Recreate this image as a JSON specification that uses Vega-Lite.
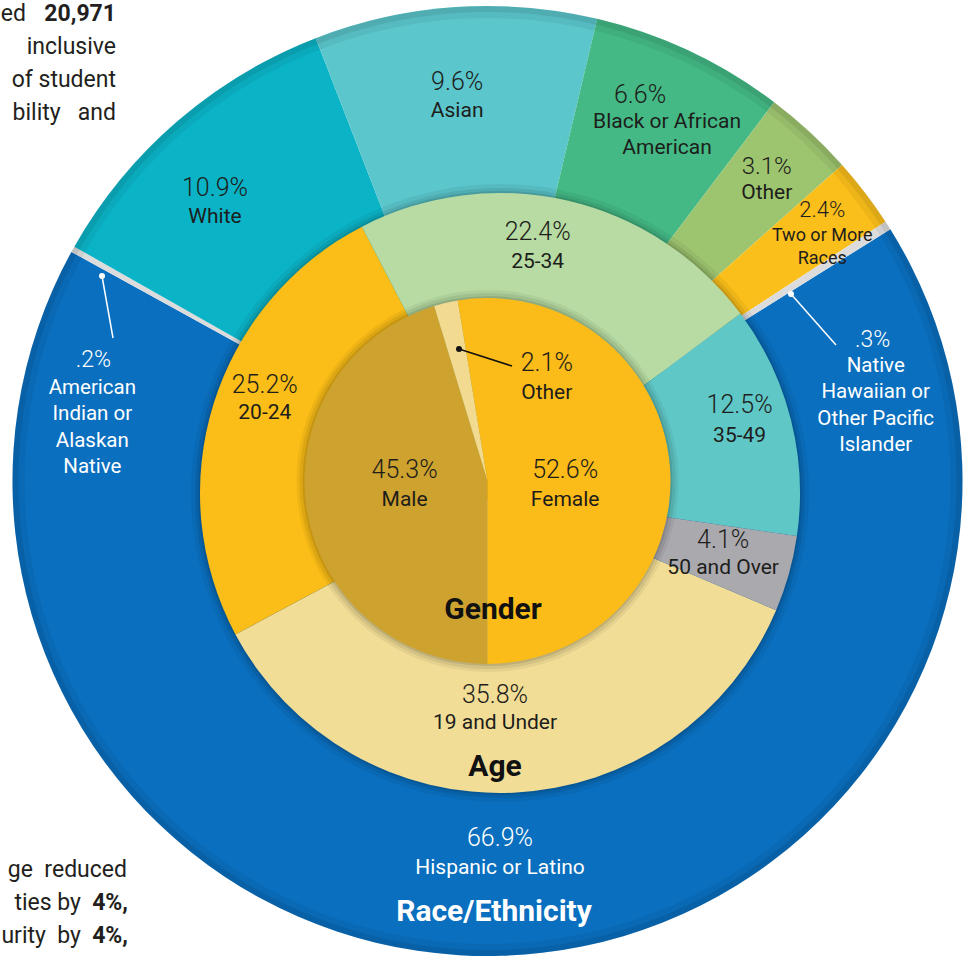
{
"$schema":"https://vega.github.io/schema/vega-lite/v6.json",
"width":975,"height":962,
"autosize":{"type":"none"},
"padding":0,
"background":"#ffffff",
"config":{"view":{"stroke":null}},
"datasets":{
 "race":[
  {"i":1,"label":"Hispanic or Latino","name":"Hispanic or Latino","pct":"66.9%","value":66.9},
  {"i":2,"label":"American Indian or Alaskan Native","name":"American\nIndian or\nAlaskan\nNative","pct":".2%","value":0.2},
  {"i":3,"label":"White","name":"White","pct":"10.9%","value":10.9},
  {"i":4,"label":"Asian","name":"Asian","pct":"9.6%","value":9.6},
  {"i":5,"label":"Black or African American","name":"Black or African\nAmerican","pct":"6.6%","value":6.6},
  {"i":6,"label":"Other","name":"Other","pct":"3.1%","value":3.1},
  {"i":7,"label":"Two or More Races","name":"Two or More\nRaces","pct":"2.4%","value":2.4},
  {"i":8,"label":"Native Hawaiian or Other Pacific Islander","name":"Native\nHawaiian or\nOther Pacific\nIslander","pct":".3%","value":0.3}
 ],
 "age":[
  {"i":1,"label":"19 and Under","pct":"35.8%","value":35.8},
  {"i":2,"label":"20-24","pct":"25.2%","value":25.2},
  {"i":3,"label":"25-34","pct":"22.4%","value":22.4},
  {"i":4,"label":"35-49","pct":"12.5%","value":12.5},
  {"i":5,"label":"50 and Over","pct":"4.1%","value":4.1}
 ],
 "gender":[
  {"i":1,"label":"Male","pct":"45.3%","value":45.3},
  {"i":2,"label":"Other","pct":"2.1%","value":2.1},
  {"i":3,"label":"Female","pct":"52.6%","value":52.6}
 ],
 "one":[{"k":1}]
},
"resolve":{"scale":{"theta":"independent","color":"independent"}},
"layer":[
 {"data":{"name":"race"},
  "mark":{"type":"arc","radius":475,"radius2":0},
  "encoding":{
   "theta":{"field":"value","type":"quantitative","stack":true,"scale":{"domain":[0,100],"range":[1.012291,7.295476]}},
   "order":{"field":"i","type":"quantitative"},
   "color":{"field":"label","type":"nominal","legend":null,"scale":{
     "domain":["Hispanic or Latino","American Indian or Alaskan Native","White","Asian","Black or African American","Other","Two or More Races","Native Hawaiian or Other Pacific Islander"],
     "range":["#0a6fbe","#dcdcdc","#0bb3c6","#5bc6cb","#44b985","#9dc56f","#fbbf1b","#dcdcdc"]}}
  }},
 {"data":{"name":"one"},"mark":{"type":"arc","theta":0,"theta2":6.2832,"radius":475,"radius2":463,"color":"#000000","opacity":0.05},"encoding":{}},
 {"data":{"name":"one"},"mark":{"type":"arc","theta":0,"theta2":6.2832,"radius":475,"radius2":469,"color":"#000000","opacity":0.07},"encoding":{}},
 {"data":{"name":"one"},"mark":{"type":"arc","theta":0,"theta2":6.2832,"radius":309,"radius2":0,"x":{"expr":"width/2+12.5"},"y":{"expr":"height/2+12"},"color":"#000000","opacity":0.05},"encoding":{}},
 {"data":{"name":"one"},"mark":{"type":"arc","theta":0,"theta2":6.2832,"radius":305,"radius2":0,"x":{"expr":"width/2+12.5"},"y":{"expr":"height/2+12"},"color":"#000000","opacity":0.07},"encoding":{}},
 {"data":{"name":"one"},"mark":{"type":"arc","theta":0,"theta2":6.2832,"radius":302,"radius2":0,"x":{"expr":"width/2+12.5"},"y":{"expr":"height/2+12"},"color":"#000000","opacity":0.1},"encoding":{}},
 {"data":{"name":"age"},
  "mark":{"type":"arc","radius":300,"radius2":0,"x":{"expr":"width/2+12.5"},"y":{"expr":"height/2+12"}},
  "encoding":{
   "theta":{"field":"value","type":"quantitative","stack":true,"scale":{"domain":[0,100],"range":[1.972222,8.255408]}},
   "order":{"field":"i","type":"quantitative"},
   "color":{"field":"label","type":"nominal","legend":null,"scale":{
     "domain":["19 and Under","20-24","25-34","35-49","50 and Over"],
     "range":["#f1dd96","#fbbd17","#b7dba2","#5fc7c6","#aaa9ae"]}}
  }},
 {"data":{"name":"one"},"mark":{"type":"arc","theta":0,"theta2":6.2832,"radius":191,"radius2":0,"color":"#000000","opacity":0.05},"encoding":{}},
 {"data":{"name":"one"},"mark":{"type":"arc","theta":0,"theta2":6.2832,"radius":188,"radius2":0,"color":"#000000","opacity":0.07},"encoding":{}},
 {"data":{"name":"one"},"mark":{"type":"arc","theta":0,"theta2":6.2832,"radius":185,"radius2":0,"color":"#000000","opacity":0.1},"encoding":{}},
 {"data":{"name":"gender"},
  "mark":{"type":"arc","radius":183,"radius2":0},
  "encoding":{
   "theta":{"field":"value","type":"quantitative","stack":true,"scale":{"domain":[0,100],"range":[3.141593,9.424778]}},
   "order":{"field":"i","type":"quantitative"},
   "color":{"field":"label","type":"nominal","legend":null,"scale":{
     "domain":["Male","Other","Female"],
     "range":["#cda22e","#f2da90","#fbbb18"]}}
  }},
 {"data":{"name":"race"},
  "encoding":{
   "theta":{"field":"value","type":"quantitative","stack":true,"scale":{"domain":[0,100],"range":[1.012291,7.295476]}},
   "order":{"field":"i","type":"quantitative"}
  },
  "layer":[
   {"mark":{"type":"text","radius":400,"dx":1.5,"dy":-43,"font":"Roboto","fontSize":25,"fontWeight":300,"color":"#ffffff","align":"center","baseline":"middle"},
    "encoding":{"text":{"condition":{"test":"datum.i === 1","field":"pct","type":"nominal"},"value":""}}},
   {"mark":{"type":"text","radius":400,"dx":1.5,"dy":-13,"font":"Roboto","fontSize":21,"color":"#ffffff","align":"center","baseline":"middle"},
    "encoding":{"text":{"condition":{"test":"datum.i === 1","field":"name","type":"nominal"},"value":""}}},
   {"mark":{"type":"text","radius":400,"dx":-4.5,"dy":31,"font":"Roboto","fontSize":30,"fontWeight":"bold","color":"#ffffff","align":"center","baseline":"middle"},
    "encoding":{"text":{"condition":{"test":"datum.i === 1","value":"Race/Ethnicity"},"value":""}}},
   {"mark":{"type":"text","radius":400,"dx":-45,"dy":74,"font":"Roboto","fontSize":23,"fontWeight":300,"color":"#ffffff","align":"center","baseline":"middle"},
    "encoding":{"text":{"condition":{"test":"datum.i === 2","field":"pct","type":"nominal"},"value":""}}},
   {"mark":{"type":"text","radius":400,"dx":-46,"dy":102,"font":"Roboto","fontSize":20.5,"lineHeight":26.5,"lineBreak":"\n","color":"#ffffff","align":"center","baseline":"middle"},
    "encoding":{"text":{"condition":{"test":"datum.i === 2","field":"name","type":"nominal"},"value":""}}},
   {"mark":{"type":"text","radius":400,"dx":-11,"dy":10,"font":"Roboto","fontSize":25,"fontWeight":300,"color":"#1d1d1b","align":"center","baseline":"middle"},
    "encoding":{"text":{"condition":{"test":"datum.i === 3","field":"pct","type":"nominal"},"value":""}}},
   {"mark":{"type":"text","radius":400,"dx":-11,"dy":39,"font":"Roboto","fontSize":21,"color":"#1d1d1b","align":"center","baseline":"middle"},
    "encoding":{"text":{"condition":{"test":"datum.i === 3","field":"name","type":"nominal"},"value":""}}},
   {"mark":{"type":"text","radius":400,"dx":-3,"dy":0,"font":"Roboto","fontSize":25,"fontWeight":300,"color":"#1d1d1b","align":"center","baseline":"middle"},
    "encoding":{"text":{"condition":{"test":"datum.i === 4","field":"pct","type":"nominal"},"value":""}}},
   {"mark":{"type":"text","radius":400,"dx":-3,"dy":29,"font":"Roboto","fontSize":21,"color":"#1d1d1b","align":"center","baseline":"middle"},
    "encoding":{"text":{"condition":{"test":"datum.i === 4","field":"name","type":"nominal"},"value":""}}},
   {"mark":{"type":"text","radius":400,"dx":-18,"dy":-24,"font":"Roboto","fontSize":25,"fontWeight":300,"color":"#1d1d1b","align":"center","baseline":"middle"},
    "encoding":{"text":{"condition":{"test":"datum.i === 5","field":"pct","type":"nominal"},"value":""}}},
   {"mark":{"type":"text","radius":400,"dx":9,"dy":3,"font":"Roboto","fontSize":21,"lineHeight":26,"lineBreak":"\n","color":"#1d1d1b","align":"center","baseline":"middle"},
    "encoding":{"text":{"condition":{"test":"datum.i === 5","field":"name","type":"nominal"},"value":""}}},
   {"mark":{"type":"text","radius":400,"dx":8,"dy":-20,"font":"Roboto","fontSize":24,"fontWeight":300,"color":"#1d1d1b","align":"center","baseline":"middle"},
    "encoding":{"text":{"condition":{"test":"datum.i === 6","field":"pct","type":"nominal"},"value":""}}},
   {"mark":{"type":"text","radius":400,"dx":8,"dy":6,"font":"Roboto","fontSize":21,"color":"#1d1d1b","align":"center","baseline":"middle"},
    "encoding":{"text":{"condition":{"test":"datum.i === 6","field":"name","type":"nominal"},"value":""}}},
   {"mark":{"type":"text","radius":400,"dx":17,"dy":-28,"font":"Roboto","fontSize":22,"fontWeight":300,"color":"#1d1d1b","align":"center","baseline":"middle"},
    "encoding":{"text":{"condition":{"test":"datum.i === 7","field":"pct","type":"nominal"},"value":""}}},
   {"mark":{"type":"text","radius":400,"dx":17,"dy":-2,"font":"Roboto","fontSize":18,"lineHeight":23,"lineBreak":"\n","color":"#1d1d1b","align":"center","baseline":"middle"},
    "encoding":{"text":{"condition":{"test":"datum.i === 7","field":"name","type":"nominal"},"value":""}}},
   {"mark":{"type":"text","radius":400,"dx":48,"dy":74,"font":"Roboto","fontSize":23,"fontWeight":300,"color":"#ffffff","align":"center","baseline":"middle"},
    "encoding":{"text":{"condition":{"test":"datum.i === 8","field":"pct","type":"nominal"},"value":""}}},
   {"mark":{"type":"text","radius":400,"dx":51,"dy":100,"font":"Roboto","fontSize":20.5,"lineHeight":26.5,"lineBreak":"\n","color":"#ffffff","align":"center","baseline":"middle"},
    "encoding":{"text":{"condition":{"test":"datum.i === 8","field":"name","type":"nominal"},"value":""}}}
  ]},
 {"data":{"name":"age"},
  "encoding":{
   "theta":{"field":"value","type":"quantitative","stack":true,"scale":{"domain":[0,100],"range":[1.972222,8.255408]}},
   "order":{"field":"i","type":"quantitative"}
  },
  "layer":[
   {"mark":{"type":"text","radius":240,"dx":-3.2,"dy":-26,"font":"Roboto","fontSize":25,"fontWeight":300,"color":"#1d1d1b","align":"center","baseline":"middle"},
    "encoding":{"text":{"condition":{"test":"datum.i === 1","field":"pct","type":"nominal"},"value":""}}},
   {"mark":{"type":"text","radius":240,"dx":-3.2,"dy":2,"font":"Roboto","fontSize":21,"color":"#1d1d1b","align":"center","baseline":"middle"},
    "encoding":{"text":{"condition":{"test":"datum.i === 1","field":"label","type":"nominal"},"value":""}}},
   {"mark":{"type":"text","radius":240,"dx":-3.2,"dy":46,"font":"Roboto","fontSize":30,"fontWeight":"bold","color":"#111111","align":"center","baseline":"middle"},
    "encoding":{"text":{"condition":{"test":"datum.i === 1","value":"Age"},"value":""}}},
   {"mark":{"type":"text","radius":240,"dx":-5.2,"dy":-111,"font":"Roboto","fontSize":30,"fontWeight":"bold","color":"#111111","align":"center","baseline":"middle"},
    "encoding":{"text":{"condition":{"test":"datum.i === 1","value":"Gender"},"value":""}}},
   {"mark":{"type":"text","radius":240,"dx":6.5,"dy":-25,"font":"Roboto","fontSize":25,"fontWeight":300,"color":"#1d1d1b","align":"center","baseline":"middle"},
    "encoding":{"text":{"condition":{"test":"datum.i === 2","field":"pct","type":"nominal"},"value":""}}},
   {"mark":{"type":"text","radius":240,"dx":6.5,"dy":3,"font":"Roboto","fontSize":21,"color":"#1d1d1b","align":"center","baseline":"middle"},
    "encoding":{"text":{"condition":{"test":"datum.i === 2","field":"label","type":"nominal"},"value":""}}},
   {"mark":{"type":"text","radius":240,"dx":-3.5,"dy":-15,"font":"Roboto","fontSize":25,"fontWeight":300,"color":"#1d1d1b","align":"center","baseline":"middle"},
    "encoding":{"text":{"condition":{"test":"datum.i === 3","field":"pct","type":"nominal"},"value":""}}},
   {"mark":{"type":"text","radius":240,"dx":-3.5,"dy":15,"font":"Roboto","fontSize":21,"color":"#1d1d1b","align":"center","baseline":"middle"},
    "encoding":{"text":{"condition":{"test":"datum.i === 3","field":"label","type":"nominal"},"value":""}}},
   {"mark":{"type":"text","radius":240,"dx":19.5,"dy":-17,"font":"Roboto","fontSize":25,"fontWeight":300,"color":"#1d1d1b","align":"center","baseline":"middle"},
    "encoding":{"text":{"condition":{"test":"datum.i === 4","field":"pct","type":"nominal"},"value":""}}},
   {"mark":{"type":"text","radius":240,"dx":19.5,"dy":14,"font":"Roboto","fontSize":21,"color":"#1d1d1b","align":"center","baseline":"middle"},
    "encoding":{"text":{"condition":{"test":"datum.i === 4","field":"label","type":"nominal"},"value":""}}},
   {"mark":{"type":"text","radius":240,"dx":4.5,"dy":-6,"font":"Roboto","fontSize":25,"fontWeight":300,"color":"#1d1d1b","align":"center","baseline":"middle"},
    "encoding":{"text":{"condition":{"test":"datum.i === 5","field":"pct","type":"nominal"},"value":""}}},
   {"mark":{"type":"text","radius":240,"dx":4.5,"dy":22,"font":"Roboto","fontSize":21,"color":"#1d1d1b","align":"center","baseline":"middle"},
    "encoding":{"text":{"condition":{"test":"datum.i === 5","field":"label","type":"nominal"},"value":""}}}
  ]},
 {"data":{"name":"gender"},
  "encoding":{
   "theta":{"field":"value","type":"quantitative","stack":true,"scale":{"domain":[0,100],"range":[3.141593,9.424778]}},
   "order":{"field":"i","type":"quantitative"}
  },
  "layer":[
   {"mark":{"type":"text","radius":100,"dx":16,"dy":-26,"font":"Roboto","fontSize":25,"fontWeight":300,"color":"#1d1d1b","align":"center","baseline":"middle"},
    "encoding":{"text":{"condition":{"test":"datum.i === 1","field":"pct","type":"nominal"},"value":""}}},
   {"mark":{"type":"text","radius":100,"dx":16,"dy":4,"font":"Roboto","fontSize":21,"color":"#1d1d1b","align":"center","baseline":"middle"},
    "encoding":{"text":{"condition":{"test":"datum.i === 1","field":"label","type":"nominal"},"value":""}}},
   {"mark":{"type":"text","radius":100,"dx":82,"dy":-21,"font":"Roboto","fontSize":25,"fontWeight":300,"color":"#1d1d1b","align":"center","baseline":"middle"},
    "encoding":{"text":{"condition":{"test":"datum.i === 2","field":"pct","type":"nominal"},"value":""}}},
   {"mark":{"type":"text","radius":100,"dx":82,"dy":9,"font":"Roboto","fontSize":21,"color":"#1d1d1b","align":"center","baseline":"middle"},
    "encoding":{"text":{"condition":{"test":"datum.i === 2","field":"label","type":"nominal"},"value":""}}},
   {"mark":{"type":"text","radius":100,"dx":-22,"dy":-3,"font":"Roboto","fontSize":25,"fontWeight":300,"color":"#1d1d1b","align":"center","baseline":"middle"},
    "encoding":{"text":{"condition":{"test":"datum.i === 3","field":"pct","type":"nominal"},"value":""}}},
   {"mark":{"type":"text","radius":100,"dx":-22,"dy":27,"font":"Roboto","fontSize":21,"color":"#1d1d1b","align":"center","baseline":"middle"},
    "encoding":{"text":{"condition":{"test":"datum.i === 3","field":"label","type":"nominal"},"value":""}}}
  ]},
 {"data":{"name":"one"},"mark":{"type":"rule","color":"#ffffff","strokeWidth":1.5},"encoding":{"x":{"value":102},"y":{"value":276},"x2":{"value":113},"y2":{"value":338}}},
 {"data":{"name":"one"},"mark":{"type":"circle","size":36,"color":"#ffffff","opacity":1},"encoding":{"x":{"value":102},"y":{"value":276}}},
 {"data":{"name":"one"},"mark":{"type":"rule","color":"#ffffff","strokeWidth":1.5},"encoding":{"x":{"value":791},"y":{"value":294},"x2":{"value":836},"y2":{"value":345}}},
 {"data":{"name":"one"},"mark":{"type":"circle","size":36,"color":"#ffffff","opacity":1},"encoding":{"x":{"value":791},"y":{"value":294}}},
 {"data":{"name":"one"},"mark":{"type":"rule","color":"#111111","strokeWidth":1.6},"encoding":{"x":{"value":459},"y":{"value":349},"x2":{"value":512},"y2":{"value":366}}},
 {"data":{"name":"one"},"mark":{"type":"circle","size":36,"color":"#111111","opacity":1},"encoding":{"x":{"value":459},"y":{"value":349}}},
 {"data":{"name":"one"},"mark":{"type":"text","x":26,"y":21,"align":"right","baseline":"alphabetic","font":"Roboto","fontSize":23,"color":"#231f20"},"encoding":{"text":{"value":"ed"}}},
 {"data":{"name":"one"},"mark":{"type":"text","x":116,"y":21,"align":"right","baseline":"alphabetic","font":"Roboto","fontSize":23,"fontWeight":"bold","color":"#231f20"},"encoding":{"text":{"value":"20,971"}}},
 {"data":{"name":"one"},"mark":{"type":"text","x":116,"y":54,"align":"right","baseline":"alphabetic","font":"Roboto","fontSize":23,"lineHeight":33,"color":"#231f20"},"encoding":{"text":{"value":["inclusive","of student","bility\u00a0\u00a0\u00a0and"]}}},
 {"data":{"name":"one"},"mark":{"type":"text","x":127,"y":877,"align":"right","baseline":"alphabetic","font":"Roboto","fontSize":23,"color":"#231f20"},"encoding":{"text":{"value":"ge\u00a0\u00a0reduced"}}},
 {"data":{"name":"one"},"mark":{"type":"text","x":81,"y":910,"align":"right","baseline":"alphabetic","font":"Roboto","fontSize":23,"lineHeight":33,"color":"#231f20"},"encoding":{"text":{"value":["ties by","urity\u00a0\u00a0by"]}}},
 {"data":{"name":"one"},"mark":{"type":"text","x":128,"y":910,"align":"right","baseline":"alphabetic","font":"Roboto","fontSize":23,"fontWeight":"bold","lineHeight":33,"color":"#231f20"},"encoding":{"text":{"value":["4%,","4%,"]}}}
]
}
